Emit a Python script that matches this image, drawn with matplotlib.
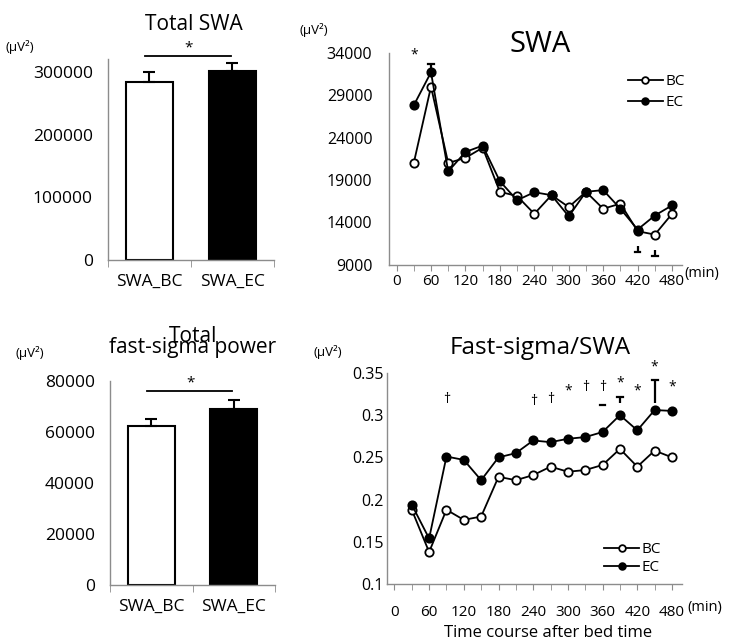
import numpy as np
import matplotlib.pyplot as plt

plt.rcParams['font.family'] = ['Open Sans', 'DejaVu Sans']

# bar panels
groups = ['SWA_BC', 'SWA_EC']
total_swa = [283400, 301000]
total_swa_err = [16600, 13400]
total_fs = [62300, 68900]
total_fs_err = [2800, 3700]

# time course panels
minutes = [30, 60, 90, 120, 150, 180, 210, 240, 270, 300, 330, 360, 390, 420, 450, 480]
swa_bc = [21000, 30000, 21000, 21600, 22800, 17600, 17100, 15000,
          17200, 15800, 17600, 15600, 16200, 12950, 12550, 15000]
swa_ec = [27800, 31700, 20000, 22300, 23050, 18850, 16600, 17550,
          17200, 14700, 17600, 17800, 15600, 13150, 14800, 16000]
ratio_bc = [0.188, 0.138, 0.188, 0.176, 0.180, 0.227, 0.223, 0.229,
            0.239, 0.233, 0.235, 0.241, 0.260, 0.239, 0.258, 0.250]
ratio_ec = [0.194, 0.154, 0.251, 0.247, 0.223, 0.250, 0.255, 0.270,
            0.268, 0.272, 0.274, 0.280, 0.300, 0.282, 0.306, 0.305]

# visible parts of the error bars: (minute, low, high, cap at top?)
swa_err = [(60, 31700, 32650, True), (420, 10450, 11150, False), (450, 10050, 10750, False)]
ratio_err = [(360, 0.3105, 0.3118, True), (390, 0.3138, 0.3217, True), (450, 0.3138, 0.3421, True)]

# significance marks
swa_marks = [(30, 33700, '*')]
ratio_marks = [(90, 0.318, '†'), (240, 0.316, '†'), (270, 0.318, '†'), (300, 0.328, '*'),
               (330, 0.333, '†'), (360, 0.333, '†'), (390, 0.338, '*'), (420, 0.328, '*'),
               (450, 0.357, '*'), (480, 0.333, '*')]

GREY = '#8c8c8c'

fig = plt.figure(figsize=(7.3, 6.44), dpi=100)


def style_axes(ax):
    for s in ['top', 'right']:
        ax.spines[s].set_visible(False)
    for s in ['left', 'bottom']:
        ax.spines[s].set_color(GREY)
        ax.spines[s].set_linewidth(1.0)
    ax.tick_params(axis='y', length=0)
    ax.tick_params(axis='x', which='both', color=GREY)


def bar_panel(rect, vals, errs, ymax, yticks, sig_y, star_y):
    ax = fig.add_axes(rect)
    style_axes(ax)
    x = np.arange(len(groups))
    ax.bar(x, vals, width=0.57, color=['white', 'black'], edgecolor='black', linewidth=1.5)
    ax.errorbar(x, vals, yerr=[[0, 0], errs], fmt='none', ecolor='black',
                elinewidth=1.5, capsize=4, capthick=1.5)
    ax.set_xlim(-0.5, 1.5)
    ax.set_ylim(0, ymax)
    ax.set_yticks(yticks)
    ax.set_yticklabels([str(v) for v in yticks], fontsize=12.5)
    ax.tick_params(axis='y', pad=11)
    ax.set_xticks(x)
    ax.set_xticklabels(groups, fontsize=12.5)
    ax.set_xticks([-0.5, 0.5, 1.5], minor=True)
    ax.tick_params(axis='x', which='major', length=0, pad=10)
    ax.tick_params(axis='x', which='minor', length=5, direction='out')
    ax.plot([-0.05, 0.98], [sig_y, sig_y], color='black', lw=1.3, clip_on=False)
    ax.text(0.47, star_y, '*', ha='center', va='center', fontsize=11, clip_on=False)
    return ax


ax1 = bar_panel([0.148, 0.596, 0.227, 0.312], total_swa, total_swa_err, 320000,
                [0, 100000, 200000, 300000], 324600, 338000)
ax3 = bar_panel([0.151, 0.092, 0.226, 0.316], total_fs, total_fs_err, 80000,
                [0, 20000, 40000, 60000, 80000], 76200, 79300)


def line_panel(rect, bc, ec, ylim, yticks, ylabels, ypad, xpad, errs, marks, leg_anchor,
               leg_space):
    ax = fig.add_axes(rect)
    style_axes(ax)
    ax.plot(minutes, bc, '-o', color='black', mfc='white', mec='black', ms=6, mew=1.3,
            lw=1.3, label='BC', zorder=3)
    ax.plot(minutes, ec, '-o', color='black', mfc='black', mec='black', ms=6, mew=1.3,
            lw=1.3, label='EC', zorder=3)
    for m, lo, hi, top in errs:
        ax.vlines(m, lo, hi, color='black', lw=1.6)
        cap = hi if top else lo
        ax.plot([m - 5, m + 5], [cap, cap], color='black', lw=1.6)
    for m, y, s in marks:
        ax.text(m, y, s, ha='center', va='center', fontsize=10)
    ax.set_xlim(-13, 497)
    ax.set_ylim(*ylim)
    ax.set_yticks(yticks)
    ax.set_yticklabels(ylabels, fontsize=11.5)
    ax.tick_params(axis='y', pad=ypad)
    ax.set_xticks(range(0, 481, 60))
    ax.set_xticklabels([str(v) for v in range(0, 481, 60)], fontsize=11)
    ax.set_xticks(range(0, 497, 30), minor=True)
    ax.tick_params(axis='x', which='both', length=4, direction='out', pad=xpad)
    ax.legend(loc='upper left', bbox_to_anchor=leg_anchor, frameon=False,
              fontsize=11, handlelength=2.3, handletextpad=0.15, borderpad=0,
              borderaxespad=0, labelspacing=leg_space, markerscale=0.8)
    return ax


ax2 = line_panel([0.533, 0.589, 0.401, 0.329], swa_bc, swa_ec, (9000, 34000),
                 list(range(9000, 34001, 5000)), [str(v) for v in range(9000, 34001, 5000)],
                 12, 3, swa_err, swa_marks, (0.815, 0.9), 0.4)
ratio_ticks = [0.1, 0.15, 0.2, 0.25, 0.3, 0.35]
ax4 = line_panel([0.530, 0.093, 0.404, 0.328], ratio_bc, ratio_ec, (0.1, 0.35),
                 ratio_ticks, ['0.1', '0.15', '0.2', '0.25', '0.3', '0.35'],
                 2, 11, ratio_err, ratio_marks, (0.737, 0.198), 0.2)

# titles and unit labels
fig.text(194 / 730, 1 - 25 / 644, 'Total SWA', ha='center', va='center', fontsize=15)
fig.text(193 / 730, 1 - 336 / 644, 'Total', ha='center', va='center', fontsize=15)
fig.text(193 / 730, 1 - 348 / 644, 'fast-sigma power', ha='center', va='center',
         fontsize=15)
fig.text(540 / 730, 1 - 45 / 644, 'SWA', ha='center', va='center', fontsize=21)
fig.text(540 / 730, 1 - 348 / 644, 'Fast-sigma/SWA', ha='center', va='center',
         fontsize=17.5)
fig.text(5 / 730, 1 - 47 / 644, '(μV²)', ha='left', va='center', fontsize=9.5)
fig.text(15 / 730, 1 - 353 / 644, '(μV²)', ha='left', va='center', fontsize=9.5)
fig.text(299 / 730, 1 - 30 / 644, '(μV²)', ha='left', va='center', fontsize=9.5)
fig.text(313 / 730, 1 - 352 / 644, '(μV²)', ha='left', va='center', fontsize=9.5)
fig.text(684 / 730, 1 - 273 / 644, '(min)', ha='left', va='center', fontsize=10.5)
fig.text(687 / 730, 1 - 607 / 644, '(min)', ha='left', va='center', fontsize=10.5)
fig.text(548 / 730, 1 - 633 / 644, 'Time course after bed time', ha='center', va='center',
         fontsize=12)

fig.savefig('out.png', dpi=100)
